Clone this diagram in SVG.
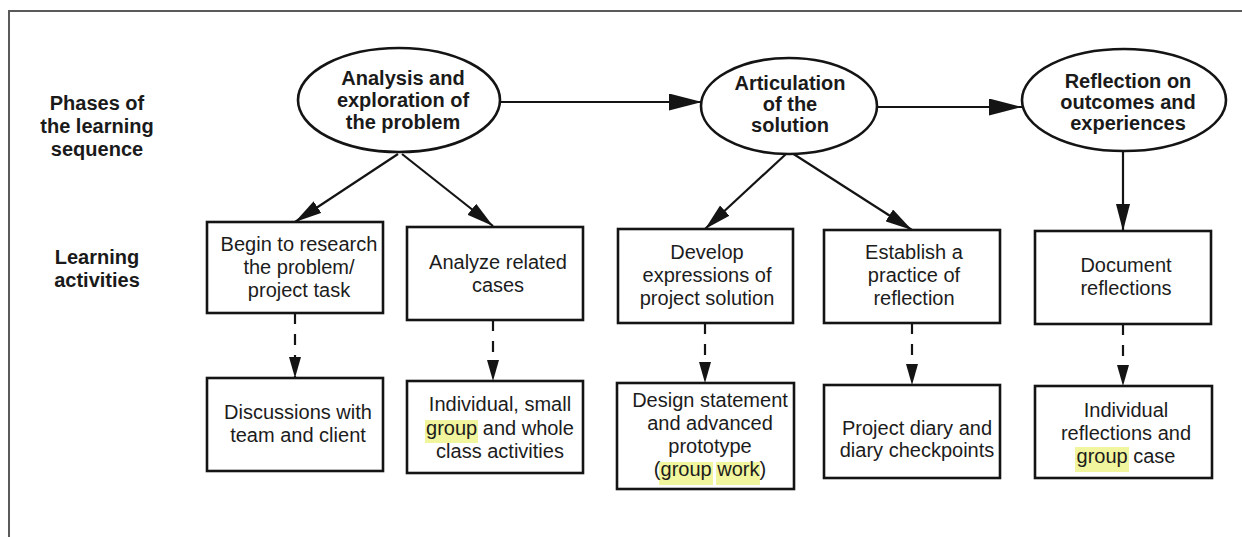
<svg xmlns="http://www.w3.org/2000/svg" width="1242" height="537" viewBox="0 0 1242 537">
<defs>
<style>
.bg{fill:#ffffff}
.frame{fill:none;stroke:#5a5a5a;stroke-width:2}
.node{fill:#ffffff;stroke:#141414;stroke-width:2.6}
.lbl{font-family:"Liberation Sans",Arial,sans-serif;font-size:20px;font-weight:bold;fill:#1a1a1a;text-anchor:middle}
.txt{font-family:"Liberation Sans",Arial,sans-serif;font-size:20px;fill:#1c1c1c;text-anchor:middle}
.hl{fill:#eef38c;opacity:0.85}
.conn{fill:none;stroke:#141414;stroke-width:2.2}
.dash{fill:none;stroke:#141414;stroke-width:2.2;stroke-dasharray:11 10}
</style>
<marker id="headL" markerUnits="userSpaceOnUse" markerWidth="34" markerHeight="18" refX="33" refY="8.5" orient="auto">
<path d="M0,0 L33,8.5 L0,17 z" fill="#141414"/>
</marker>
<marker id="headM" markerUnits="userSpaceOnUse" markerWidth="28" markerHeight="14" refX="27" refY="7" orient="auto">
<path d="M0,0 L27,7 L0,14 z" fill="#141414"/>
</marker>
<marker id="headS" markerUnits="userSpaceOnUse" markerWidth="22" markerHeight="12" refX="21" refY="6" orient="auto">
<path d="M0,0 L21,6 L0,12 z" fill="#141414"/>
</marker>
</defs>
<rect class="bg" x="0" y="0" width="1242" height="537"/>
<path class="frame" d="M9,537 L9,11 L1242,11"/>

<g id="row-labels">
<text class="lbl" x="97" y="110">Phases of</text>
<text class="lbl" x="97" y="133">the learning</text>
<text class="lbl" x="97" y="156">sequence</text>
<text class="lbl" x="97" y="264">Learning</text>
<text class="lbl" x="97" y="287">activities</text>
</g>

<g id="connectors">
<path class="conn" d="M500,102 L702,102" marker-end="url(#headL)"/>
<path class="conn" d="M877,107 L1022,107" marker-end="url(#headL)"/>
<path class="conn" d="M398,154 L295,222" marker-end="url(#headM)"/>
<path class="conn" d="M402,154 L493,226" marker-end="url(#headM)"/>
<path class="conn" d="M786,154 L705,229" marker-end="url(#headM)"/>
<path class="conn" d="M792,153 L912,230" marker-end="url(#headM)"/>
<path class="conn" d="M1123,152 L1123,231" marker-end="url(#headM)"/>
<path class="dash" d="M295,313 L295,378" marker-end="url(#headS)"/>
<path class="dash" d="M493,320 L493,381" marker-end="url(#headS)"/>
<path class="dash" d="M705,323 L705,383" marker-end="url(#headS)"/>
<path class="dash" d="M912,323 L912,385" marker-end="url(#headS)"/>
<path class="dash" d="M1123,324 L1123,386" marker-end="url(#headS)"/>
</g>

<g id="phase-analysis">
<ellipse class="node" cx="399" cy="100" rx="101" ry="52"/>
<text class="lbl" x="403" y="85">Analysis and</text>
<text class="lbl" x="403" y="107">exploration of</text>
<text class="lbl" x="403" y="129">the problem</text>
</g>

<g id="phase-articulation">
<ellipse class="node" cx="789" cy="106" rx="88" ry="48"/>
<text class="lbl" x="790" y="90">Articulation</text>
<text class="lbl" x="790" y="111">of the</text>
<text class="lbl" x="790" y="132">solution</text>
</g>

<g id="phase-reflection">
<ellipse class="node" cx="1124" cy="100" rx="102" ry="51"/>
<text class="lbl" x="1128" y="88">Reflection on</text>
<text class="lbl" x="1128" y="109">outcomes and</text>
<text class="lbl" x="1128" y="130">experiences</text>
</g>

<g id="act-research">
<rect class="node" x="207" y="222" width="176" height="91"/>
<text class="txt" x="299" y="251">Begin to research</text>
<text class="txt" x="299" y="274">the problem/</text>
<text class="txt" x="299" y="297">project task</text>
</g>

<g id="act-analyze">
<rect class="node" x="407" y="227" width="176" height="93"/>
<text class="txt" x="498" y="269">Analyze related</text>
<text class="txt" x="498" y="292">cases</text>
</g>

<g id="act-develop">
<rect class="node" x="618" y="229" width="175" height="94"/>
<text class="txt" x="707" y="259">Develop</text>
<text class="txt" x="707" y="282">expressions of</text>
<text class="txt" x="707" y="305">project solution</text>
</g>

<g id="act-establish">
<rect class="node" x="824" y="230" width="176" height="93"/>
<text class="txt" x="914" y="259">Establish a</text>
<text class="txt" x="914" y="282">practice of</text>
<text class="txt" x="914" y="305">reflection</text>
</g>

<g id="act-document">
<rect class="node" x="1035" y="231" width="176" height="93"/>
<text class="txt" x="1126" y="272">Document</text>
<text class="txt" x="1126" y="295">reflections</text>
</g>

<g id="out-discussions">
<rect class="node" x="207" y="378" width="176" height="93"/>
<text class="txt" x="298" y="419">Discussions with</text>
<text class="txt" x="298" y="442">team and client</text>
</g>

<g id="out-individual">
<rect class="node" x="407" y="381" width="176" height="92"/>
<rect class="hl" x="425" y="420" width="53" height="23"/>
<text class="txt" x="500" y="411">Individual, small</text>
<text class="txt" x="500" y="435">group and whole</text>
<text class="txt" x="500" y="458">class activities</text>
</g>

<g id="out-design">
<rect class="node" x="617" y="383" width="177" height="106"/>
<rect class="hl" x="659" y="462" width="54" height="23"/>
<rect class="hl" x="716" y="462" width="44" height="23"/>
<text class="txt" x="710" y="407">Design statement</text>
<text class="txt" x="710" y="430">and advanced</text>
<text class="txt" x="710" y="453">prototype</text>
<text class="txt" x="710" y="476">(group work)</text>
</g>

<g id="out-diary">
<rect class="node" x="824" y="385" width="176" height="93"/>
<text class="txt" x="917" y="435">Project diary and</text>
<text class="txt" x="917" y="457">diary checkpoints</text>
</g>

<g id="out-reflections">
<rect class="node" x="1035" y="386" width="177" height="92"/>
<rect class="hl" x="1075" y="447" width="54" height="25"/>
<text class="txt" x="1126" y="417">Individual</text>
<text class="txt" x="1126" y="440">reflections and</text>
<text class="txt" x="1126" y="463">group case</text>
</g>
</svg>
